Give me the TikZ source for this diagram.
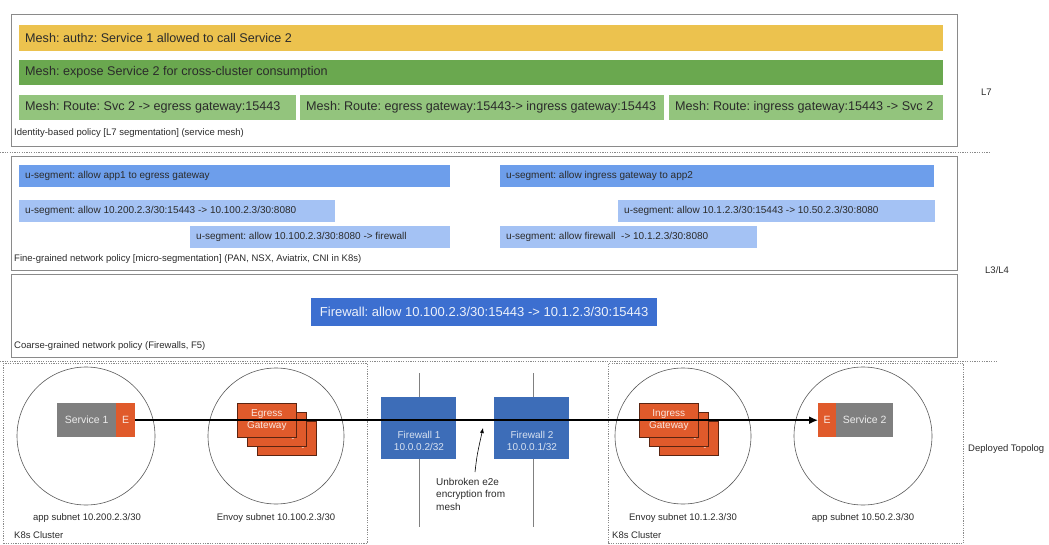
\documentclass[tikz,border=0pt]{standalone}
\usepackage{fontspec}
\setmainfont{Liberation Sans}
\usetikzlibrary{arrows.meta}
\definecolor{yel}{HTML}{ECC24E}
\definecolor{dgreen}{HTML}{6AA84F}
\definecolor{lgreen}{HTML}{93C47D}
\definecolor{ublue}{HTML}{6D9EEB}
\definecolor{lblue}{HTML}{A4C2F4}
\definecolor{cblue}{HTML}{3C6FD0}
\definecolor{fwblue}{HTML}{3D6DB8}
\definecolor{orng}{HTML}{E05A2B}
\definecolor{svgray}{HTML}{7F7F7F}
\definecolor{frm}{HTML}{8A8A8A}
\definecolor{txt}{HTML}{2B2B2B}
\frenchspacing
\begin{document}
\frenchspacing
\begin{tikzpicture}[x=1pt,y=-1pt,
  frame/.style={draw=frm, line width=0.8pt, anchor=north west, inner sep=0pt},
  meshbar/.style={anchor=north west, inner xsep=6pt, inner ysep=0pt, align=flush left, text=txt,
     font=\fontsize{12.6}{15}\selectfont},
  segbar/.style={anchor=north west, inner xsep=6pt, inner ysep=0pt, align=flush left, text=txt,
     font=\fontsize{10}{12}\selectfont},
  lbl/.style={anchor=west, inner sep=0pt, text=txt, font=\fontsize{9.5}{11}\selectfont},
  divider/.style={draw=frm, line width=0.8pt, dash pattern=on 1.2pt off 1.2pt},
  cluster/.style={draw=frm, line width=0.8pt, dash pattern=on 1.2pt off 1.2pt, anchor=north west, inner sep=0pt},
  subnet/.style={draw=black!65, line width=0.6pt},
  svc/.style={fill=svgray, anchor=north west, inner sep=0pt, text=white!85!gray,
     font=\fontsize{10.5}{12}\selectfont},
  env/.style={fill=orng, anchor=north west, inner sep=0pt, text=white!85!orng,
     font=\fontsize{10.5}{12}\selectfont},
  gw/.style={fill=orng, draw=black!60!orng, line width=0.6pt, anchor=north west, inner sep=0pt,
     minimum width=59pt, minimum height=34pt, align=center, text=white!85!orng,
     font=\fontsize{10}{11.5}\selectfont},
  fw/.style={fill=fwblue, anchor=north west, inner sep=0pt, minimum width=75pt, minimum height=62pt},
  fwtext/.style={inner sep=0pt, align=center, text=white!80!fwblue, font=\fontsize{10}{12}\selectfont},
  wire/.style={draw=black!50, line width=0.6pt},
  flow/.style={draw=black, line width=1.5pt, -{Latex[length=9pt,width=8pt]}},
  note/.style={draw=black, line width=0.6pt, -{Latex[length=5pt,width=4pt]}}
]
\useasboundingbox (0,0) rectangle (1049,545);
\fill[white] (0,0) rectangle (1049,545);

% ---------- L7 ----------
\node[frame, minimum width=946pt, minimum height=132pt] (l7) at (11,14) {};
\node[meshbar, fill=yel, text width=912pt, minimum height=26pt] (authz) at (19,25)
  {Mesh: authz: Service 1 allowed to call Service 2};
\node[meshbar, fill=dgreen, text width=912pt, minimum height=25pt] (expose) at (19,60)
  {Mesh: expose Service 2 for cross-cluster consumption};
\node[meshbar, fill=lgreen, text width=265pt, minimum height=25pt] (r1) at (19,95)
  {Mesh: Route: Svc 2 -> egress gateway:15443};
\node[meshbar, fill=lgreen, text width=352pt, minimum height=25pt] (r2) at (300,95)
  {Mesh: Route: egress gateway:15443-> ingress gateway:15443};
\node[meshbar, fill=lgreen, text width=262pt, minimum height=25pt] (r3) at (669,95)
  {Mesh: Route: ingress gateway:15443 -> Svc 2};
\node[lbl] (l7lbl) at (14,133) {Identity-based policy [L7 segmentation] (service mesh)};
\node[lbl] (l7tag) at (981,92) {L7};

\coordinate (d1a) at (0,152); \coordinate (d1b) at (990,152);
\draw[divider] (d1a) -- (d1b);

% ---------- L3/L4 fine ----------
\node[frame, minimum width=946pt, minimum height=114pt] (fine) at (11,156) {};
\node[segbar, fill=ublue, text width=419pt, minimum height=22pt] (us1) at (19,165)
  {u-segment: allow app1 to egress gateway};
\node[segbar, fill=ublue, text width=422pt, minimum height=22pt] (us2) at (500,165)
  {u-segment: allow ingress gateway to app2};
\node[segbar, fill=lblue, text width=304pt, minimum height=22pt] (us3) at (19,200)
  {u-segment: allow 10.200.2.3/30:15443 -> 10.100.2.3/30:8080};
\node[segbar, fill=lblue, text width=305pt, minimum height=22pt] (us4) at (618,200)
  {u-segment: allow 10.1.2.3/30:15443 -> 10.50.2.3/30:8080};
\node[segbar, fill=lblue, text width=248pt, minimum height=22pt] (us5) at (190,226)
  {u-segment: allow 10.100.2.3/30:8080 -> firewall};
\node[segbar, fill=lblue, text width=245pt, minimum height=22pt] (us6) at (500,226)
  {u-segment: allow firewall\ \ -> 10.1.2.3/30:8080};
\node[lbl] (finelbl) at (14,259) {Fine-grained network policy [micro-segmentation] (PAN, NSX, Aviatrix, CNI in K8s)};
\node[lbl] (l34tag) at (985,270) {L3/L4};

% ---------- coarse ----------
\node[frame, minimum width=946pt, minimum height=83pt] (coarse) at (11,274) {};
\node[anchor=north west, fill=cblue, minimum width=346pt, minimum height=28pt, inner sep=0pt,
  text=white!90!cblue, font=\fontsize{13}{15}\selectfont] (fwpol) at (311,298)
  {Firewall: allow 10.100.2.3/30:15443 -> 10.1.2.3/30:15443};
\node[lbl] (coarselbl) at (14,346) {Coarse-grained network policy (Firewalls, F5)};

\coordinate (d2a) at (0,361); \coordinate (d2b) at (997,361);
\draw[divider] (d2a) -- (d2b);

% ---------- topology ----------
\node[cluster, minimum width=364pt, minimum height=180pt] (k1) at (3,363) {};
\node[cluster, minimum width=355pt, minimum height=180pt] (k2) at (608,363) {};
\node[lbl] (k1lbl) at (14,535) {K8s Cluster};
\node[lbl] (k2lbl) at (612,535) {K8s Cluster};
\node[lbl] (deptag) at (968,449) {Deployed Topolog};

\node[subnet, circle, minimum size=138pt, inner sep=0pt] (c1) at (86,436) {};
\node[subnet, circle, minimum size=136pt, inner sep=0pt] (c2) at (276,436) {};
\node[subnet, circle, minimum size=136pt, inner sep=0pt] (c3) at (683,436) {};
\node[subnet, circle, minimum size=138pt, inner sep=0pt] (c4) at (863,436) {};

\node[lbl, anchor=center] (s1) at (87,518) {app subnet 10.200.2.3/30};
\node[lbl, anchor=center] (s2) at (276,518) {Envoy subnet 10.100.2.3/30};
\node[lbl, anchor=center] (s3) at (683,518) {Envoy subnet 10.1.2.3/30};
\node[lbl, anchor=center] (s4) at (863,518) {app subnet 10.50.2.3/30};

% service 1
\node[svc, minimum width=59pt, minimum height=34pt] (svc1) at (57,403) {Service 1};
\node[env, minimum width=19pt, minimum height=34pt] (e1) at (116,403) {E};
% egress gateway stack
\node[gw] (eg3) at (257,421) {Egress\\Gateway};
\node[gw] (eg2) at (247,412) {Egress\\Gateway};
\node[gw] (eg1) at (237,403) {Egress\\Gateway};
% ingress gateway stack
\node[gw] (ig3) at (659,421) {Ingress\\Gateway};
\node[gw] (ig2) at (649,412) {Ingress\\Gateway};
\node[gw] (ig1) at (639,403) {Ingress\\Gateway};
% service 2
\node[env, minimum width=18pt, minimum height=34pt] (e2) at (818,403) {E};
\node[svc, minimum width=57pt, minimum height=34pt] (svc2) at (836,403) {Service 2};

% firewalls
\coordinate (w1a) at (419,373); \coordinate (w1b) at (419,527);
\coordinate (w2a) at (533,373); \coordinate (w2b) at (533,527);
\draw[wire] (w1a) -- (w1b);
\draw[wire] (w2a) -- (w2b);
\node[fw] (fw1) at (381,397) {};
\node[fw] (fw2) at (494,397) {};
\node[fwtext] (fw1t) at (419,441) {Firewall 1\\10.0.0.2/32};
\node[fwtext] (fw2t) at (532,441) {Firewall 2\\10.0.0.1/32};

% annotation
\node[anchor=north west, inner sep=0pt, align=left, text=txt, font=\fontsize{10}{12.5}\selectfont]
  (unb) at (436,478) {Unbroken e2e\\encryption from\\mesh};
\coordinate (na) at (475,472); \coordinate (nb) at (483,428);
\draw[note] (na) .. controls (477,455) .. (nb);

% main flow
\draw[flow] (e1.east) -- (e2.west);
\end{tikzpicture}
\end{document}
